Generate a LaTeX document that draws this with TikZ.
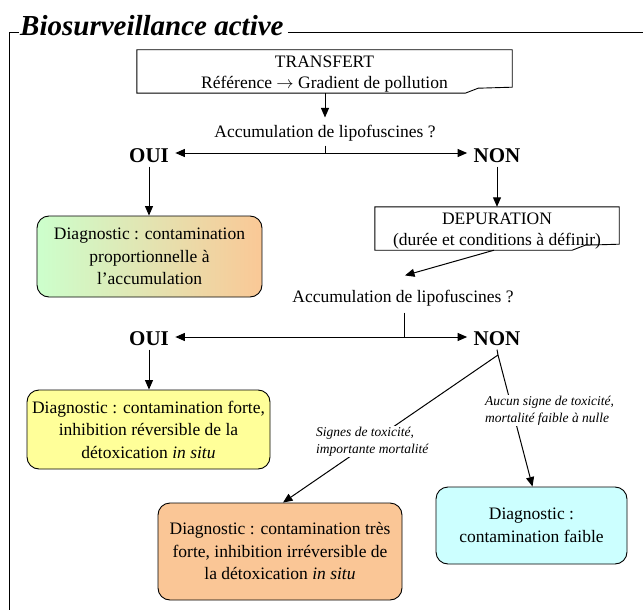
\documentclass[tikz,border=0pt]{standalone}
\usepackage{fontspec}
\setmainfont{Liberation Serif}
\usetikzlibrary{arrows.meta,positioning,calc}

\definecolor{diaggreen}{RGB}{204,255,204}
\definecolor{diagpeach}{RGB}{250,200,150}
\definecolor{diagyellow}{RGB}{255,255,153}
\definecolor{diagorange}{RGB}{250,198,150}
\definecolor{diagcyan}{RGB}{204,255,255}

% outline with a turned-up corner, lifted 3pt above the text node
\newcommand{\foldframe}[1]{%
  \draw[line width=0.9pt]
       ([xshift=-47pt,yshift=3pt]#1.south east) -- ([yshift=3pt]#1.south west)
       -- ([yshift=3pt]#1.north west) -- ([yshift=3pt]#1.north east)
       -- ([yshift=9pt]#1.south east)
       -- ([xshift=-34pt,yshift=8pt]#1.south east)
       .. controls ([xshift=-40pt,yshift=6pt]#1.south east)
       .. ([xshift=-47pt,yshift=3pt]#1.south east);}

\begin{document}
\begin{tikzpicture}[
  x=1pt, y=-1pt,
  stagebox/.style={rectangle, minimum width=375pt, minimum height=43pt,
                   align=center, inner sep=1pt, font=\fontsize{17.5}{21}\selectfont},
  diag/.style={rectangle, draw, rounded corners=12pt, align=center,
               font=\fontsize{17.5}{22.5}\selectfont, line width=0.9pt},
  question/.style={font=\fontsize{17.5}{20}\selectfont},
  answer/.style={font=\fontsize{21}{23}\selectfont\bfseries},
  cond/.style={font=\fontsize{13.5}{17}\selectfont\itshape, align=left,
               fill=white, inner sep=1pt},
  edge/.style={draw, line width=1pt, -{Triangle[length=9.5pt,width=8pt]}},
  plain/.style={draw, line width=1pt},
]
  \useasboundingbox (0,0) rectangle (643,610);

  % Column x-coordinates
  \def\xoui{149}
  \def\xnon{497}

  % Title and frame
  \node[font=\fontsize{29}{31}\selectfont\bfseries\itshape, anchor=base west,
        inner sep=0pt] (title) at (20,36) {Biosurveillance active};
  \draw[line width=1pt] (9,610) -- (9,33) -- (19,33);
  \draw[line width=1pt] ([xshift=4pt]title.east |- 0,33) -- (643,33);

  % Transfer stage
  \node[stagebox] (transfert) at (324.5,74.5)
       {TRANSFERT\\ Référence $\rightarrow$ Gradient de pollution};
  \foldframe{transfert}
  \coordinate (transfert-bot) at ([yshift=3pt]transfert.south);

  % First question
  \node[question] (q1) at (325,133) {Accumulation de lipofuscines ?};
  \node[answer] (oui1) at (\xoui,156) {OUI};
  \node[answer] (non1) at (\xnon,156) {NON};
  \coordinate (split1) at (325,153);

  % Depuration stage
  \node[stagebox, minimum width=244pt] (depur) at (497,231.5)
       {DEPURATION\\ (durée et conditions à définir)};
  \foldframe{depur}
  \coordinate (depur-top) at ([yshift=3pt]depur.north);
  \coordinate (depur-bot) at ([xshift=-3pt,yshift=3pt]depur.south);

  % Second question
  \node[question] (q2) at (403,298) {Accumulation de lipofuscines ?};
  \node[answer] (oui2) at (\xoui,339) {OUI};
  \node[answer] (non2) at (\xnon,339) {NON};
  \coordinate (split2) at (404,337);
  \coordinate (fork) at (498,355);

  % Diagnostics
  \node[diag, left color=diaggreen, right color=diagpeach,
        minimum width=225pt, minimum height=81pt] (diag1) at (149.5,256.5)
       {Diagnostic : contamination\\ proportionnelle à\\ l’accumulation};
  \node[diag, fill=diagyellow, minimum width=243pt, minimum height=79pt]
       (diag2) at (148.5,429.5)
       {Diagnostic : contamination forte,\\ inhibition réversible de la\\
        détoxication \textit{in situ}};
  \node[diag, fill=diagorange, minimum width=244pt, minimum height=97pt]
       (diag3) at (280,551.5)
       {Diagnostic : contamination très\\ forte, inhibition irréversible de\\
        la détoxication \textit{in situ}};
  \node[diag, fill=diagcyan, minimum width=191pt, minimum height=77pt]
       (diag4) at (531.5,525.5)
       {Diagnostic :\\ contamination faible};

  % Connectors, first level
  \draw[edge] (transfert-bot -| q1) -- ([yshift=4pt]q1.north);
  \draw[plain] ([yshift=-1pt]q1.south) -- (split1);
  \draw[edge] (split1) -- ([xshift=3pt]oui1.east |- split1);
  \draw[edge] (split1) -- ([xshift=-3pt]non1.west |- split1);
  \draw[edge] (oui1.south) -- (diag1.north -| oui1);
  \draw[edge] (non1.south) -- (depur-top -| non1);

  % Connectors, second level
  \draw[edge] (depur-bot) -- ([xshift=2pt,yshift=11pt]q2.north);
  \draw[plain] ([yshift=-3pt]q2.south -| split2) -- (split2);
  \draw[edge] (split2) -- ([xshift=3pt]oui2.east |- split2);
  \draw[edge] (split2) -- ([xshift=-3pt]non2.west |- split2);
  \draw[edge] (oui2.south) -- (diag2.north -| oui2);

  % Fork from NON
  \draw[plain] (non2.south) -- (fork);
  \draw[edge] (fork) -- ([xshift=3pt]diag3.north)
       node[cond, pos=0.585] {Signes de toxicité,\\ importante mortalité};
  \draw[edge] (fork) -- ([xshift=1pt]diag4.north)
       node[cond, pos=0.42, xshift=37pt] {Aucun signe de toxicité,\\ mortalité faible à nulle};

\end{tikzpicture}
\end{document}
